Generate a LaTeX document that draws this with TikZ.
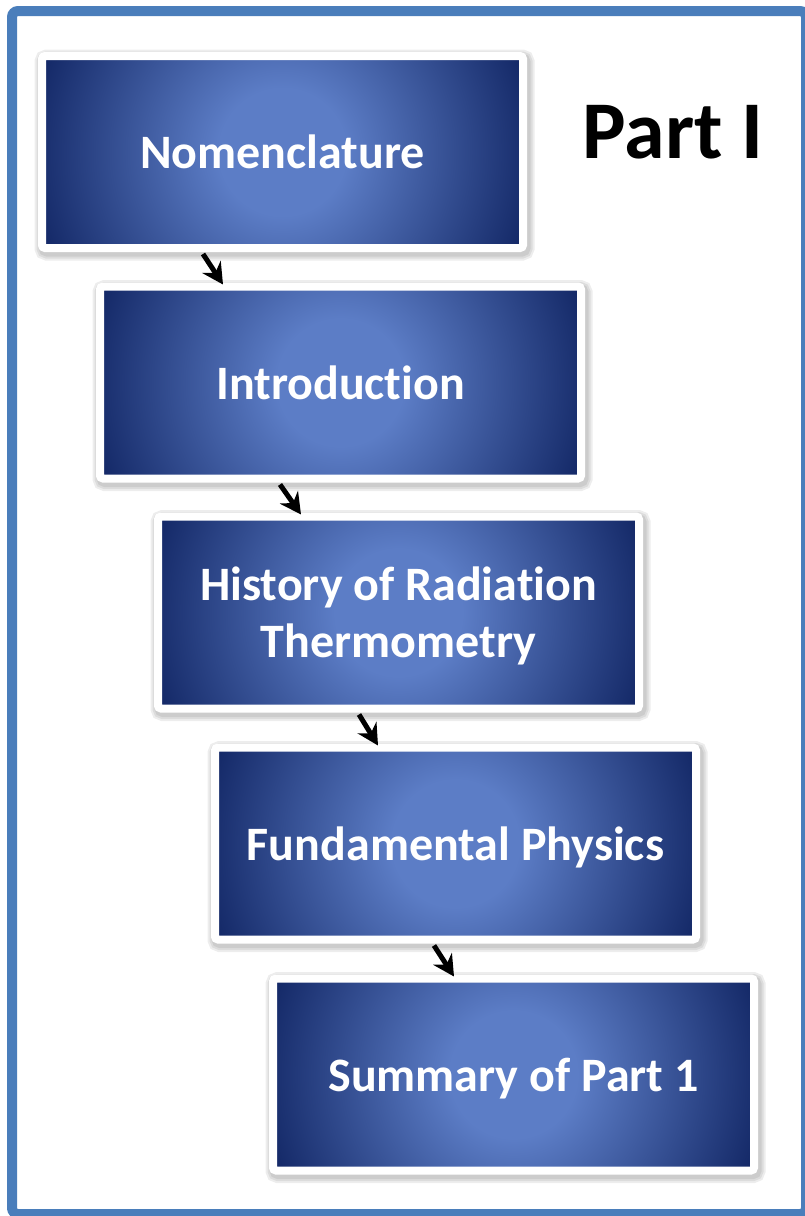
\documentclass[tikz,border=0pt]{standalone}
\usepackage{fontspec}
\setmainfont{Carlito}[Ligatures=NoCommon]
\usetikzlibrary{arrows.meta,shadows}

\definecolor{frameblue}{RGB}{74,126,187}
\definecolor{boxlight}{RGB}{92,125,198}
\definecolor{boxdark}{RGB}{16,36,98}
\pgfdeclareradialshading{boxglow}{\pgfpoint{0bp}{0bp}}{%
  color(0bp)=(boxlight); color(6bp)=(boxlight); color(25bp)=(boxdark); color(50bp)=(boxdark)}

\begin{document}
\begin{tikzpicture}[
        x=1pt, y=-1pt,
        softshadow/.style={general shadow={shadow xshift=2pt, shadow yshift=-3pt,
            draw=black, fill=black, line width=#1, opacity=0.07}},
        stepbox/.style={rectangle, minimum width=481pt, minimum height=192pt, inner sep=0pt,
            draw=white, line width=8pt, rounded corners=3pt,
            path picture={\shade[shading=boxglow] (path picture bounding box.center) circle (265pt);},
            softshadow=19pt, softshadow=15pt, softshadow=11pt,
            text=white, align=center, text depth=0pt, font=\bfseries\fontsize{48}{57}\selectfont},
        flowarrow/.style={-{Stealth[length=21pt, width=22pt, inset=7pt]}, line width=5pt, black},
        parttitle/.style={font=\bfseries\fontsize{82}{98}\selectfont, inner sep=0pt}
    ]
        \useasboundingbox (0,0) rectangle (805,1216);

        % Outer frame
        \draw[frameblue, line width=10pt, rounded corners=6pt] (12,11) rectangle (806,1214);

        % Title
        \node[parttitle] (title) at (673,132) {Part I};

        % Steps
        \node[stepbox] (nomen) at (282.5,152) {Nomenclature};
        \node[stepbox] (intro) at (340.5,382.5) {Introduction};
        \node[stepbox] (history) at (398.5,612.5) {History of Radiation\\Thermometry};
        \node[stepbox] (physics) at (455.5,843.5) {Fundamental Physics};
        \node[stepbox] (summary) at (513.5,1074.5) {Summary of Part 1};

        % Arrows between steps
        \draw[flowarrow] ([shift={(165,2)}]nomen.south west) -- ([shift={(127,2)}]intro.north west);
        \draw[flowarrow] ([shift={(184,2)}]intro.south west) -- ([shift={(147,2)}]history.north west);
        \draw[flowarrow] ([shift={(205,2)}]history.south west) -- ([shift={(167,2)}]physics.north west);
        \draw[flowarrow] ([shift={(223,2)}]physics.south west) -- ([shift={(185,2)}]summary.north west);
    \end{tikzpicture}
\end{document}
